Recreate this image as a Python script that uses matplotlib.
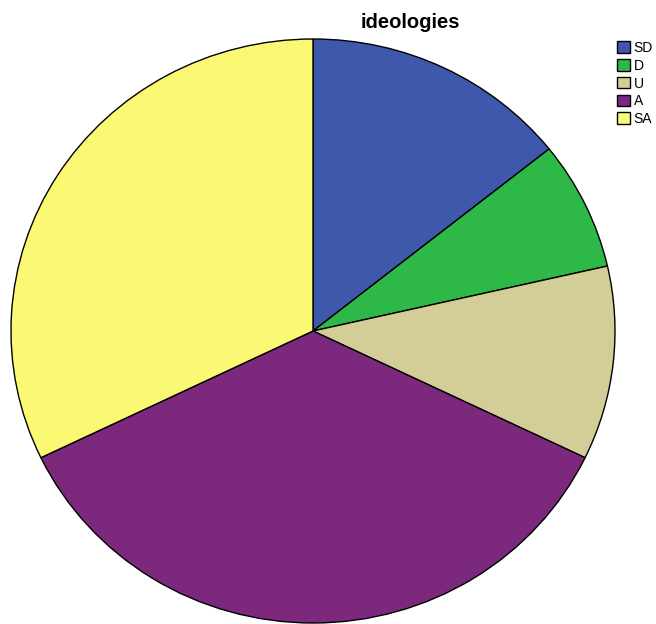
import matplotlib
matplotlib.use("Agg")
import matplotlib.pyplot as plt

plt.rcParams["font.family"] = ["Liberation Sans", "DejaVu Sans"]

categories = ["SD", "D", "U", "A", "SA"]
counts = [4, 2, 3, 10, 9]
colors = ["#3e58ac", "#2eb848", "#d3ce97", "#7c287d", "#fbf873"]

W, H = 656, 624
fig = plt.figure(figsize=(W / 100, H / 100), dpi=100)

# pie area (slightly wider than tall)
left, right, top, bottom = 11, 615, 39, 623
ax = fig.add_axes([left / W, (H - bottom) / H, (right - left) / W, (bottom - top) / H])
wedges, _ = ax.pie(
    counts,
    colors=colors,
    startangle=90,
    counterclock=False,
    radius=1.0,
    wedgeprops=dict(edgecolor="black", linewidth=1.0),
)
ax.set_aspect("auto")
ax.set_xlim(-1.0, 1.0)
ax.set_ylim(-1.0, 1.0)
ax.axis("off")

fig.text(410 / W, 1 - 28 / H, "ideologies", ha="center", va="baseline",
         fontsize=14.5, fontweight="bold")

fig.legend(
    wedges, categories,
    loc="upper left",
    bbox_to_anchor=(617 / W, 1 - 41 / H),
    frameon=False,
    fontsize=10,
    handlelength=0.95,
    handleheight=0.9,
    handletextpad=0.25,
    labelspacing=0.27,
    borderpad=0.0,
    borderaxespad=0.0,
)

fig.savefig("out.png", dpi=100)
